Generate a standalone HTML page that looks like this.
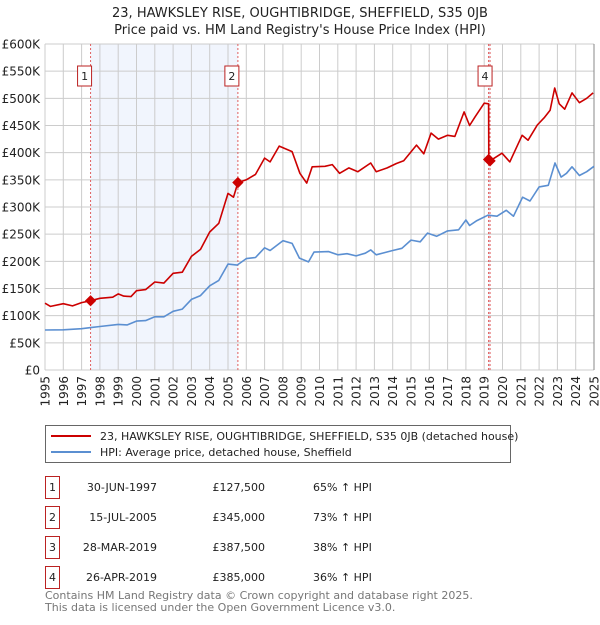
<!DOCTYPE html>
<html><head><meta charset="utf-8"><style>
body{margin:0;background:#fff;font-family:"Liberation Sans","DejaVu Sans",sans-serif;}
svg text{font-family:"DejaVu Sans","Liberation Sans",sans-serif;}
</style></head><body>
<svg id="c" width="600" height="620" xmlns="http://www.w3.org/2000/svg">
<text x="300" y="17" text-anchor="middle" font-size="13" fill="#222">23, HAWKSLEY RISE, OUGHTIBRIDGE, SHEFFIELD, S35 0JB</text>
<text x="300" y="34" text-anchor="middle" font-size="13" fill="#222">Price paid vs. HM Land Registry's House Price Index (HPI)</text>
<g id="plot"></g>
<g>
<rect x="45.5" y="425.5" width="465" height="37" fill="#fff" stroke="#666"/>
<line x1="51" y1="436" x2="91" y2="436" stroke="#cc0000" stroke-width="2"/>
<text x="100" y="440" font-size="11" fill="#222">23, HAWKSLEY RISE, OUGHTIBRIDGE, SHEFFIELD, S35 0JB (detached house)</text>
<line x1="51" y1="452" x2="91" y2="452" stroke="#5b8fd1" stroke-width="2"/>
<text x="100" y="456" font-size="11" fill="#222">HPI: Average price, detached house, Sheffield</text>
</g>
<g id="tbl" font-size="11" fill="#222"></g>
<text x="45" y="599" font-size="11" fill="#777">Contains HM Land Registry data © Crown copyright and database right 2025.</text>
<text x="45" y="611" font-size="11" fill="#777">This data is licensed under the Open Government Licence v3.0.</text>
</svg>
<script>
const yTicks=[0,50000,100000,150000,200000,250000,300000,350000,400000,450000,500000,550000,600000];
const yTickLabels=["£0","£50K","£100K","£150K","£200K","£250K","£300K","£350K","£400K","£450K","£500K","£550K","£600K"];
const years=[1995,1996,1997,1998,1999,2000,2001,2002,2003,2004,2005,2006,2007,2008,2009,2010,2011,2012,2013,2014,2015,2016,2017,2018,2019,2020,2021,2022,2023,2024,2025];
const hpiT=[1995,1996,1997,1997.5,1998,1999,1999.5,2000,2000.5,2001,2001.5,2002,2002.5,2003,2003.5,2004,2004.5,2005,2005.5,2006,2006.5,2007,2007.3,2008,2008.5,2008.9,2009.4,2009.7,2010.5,2011,2011.5,2012,2012.5,2012.8,2013.1,2014,2014.5,2015,2015.5,2015.9,2016.4,2017,2017.6,2018,2018.2,2018.6,2019.2,2019.7,2020.2,2020.6,2021.1,2021.5,2022,2022.5,2022.87,2023.2,2023.5,2023.8,2024.2,2024.6,2025];
const hpiV=[73600,74000,76000,78000,80000,84000,83000,90000,91000,98000,98000,108000,112000,130000,137000,155000,165000,195000,193000,205000,207000,225000,220000,238000,233000,206000,199000,217000,218000,212000,214000,210000,215000,221000,212000,220000,224000,239000,236000,252000,246000,256000,258000,276000,266000,275000,285000,283000,294000,283000,318000,311000,337000,340000,381000,355000,362000,374000,358000,365000,375000];
const priceT=[1995,1995.3,1996,1996.5,1997,1997.5,1998,1998.7,1999,1999.3,1999.7,2000,2000.5,2001,2001.5,2002,2002.5,2003,2003.5,2004,2004.5,2005,2005.3,2005.54,2006,2006.5,2007,2007.3,2007.8,2008.5,2008.93,2009.3,2009.6,2010.3,2010.7,2011.1,2011.6,2012.1,2012.8,2013.1,2013.7,2014.2,2014.6,2015.3,2015.7,2016.1,2016.5,2017,2017.4,2017.9,2018.2,2018.5,2019.0,2019.24,2019.25,2019.32,2019.97,2020.4,2021.07,2021.4,2021.9,2022.3,2022.6,2022.85,2023.1,2023.4,2023.8,2024.2,2024.6,2024.95];
const priceV=[123000,117000,122000,118000,124000,127500,132000,134000,140000,136000,135000,146000,148000,162000,160000,178000,180000,209000,222000,254000,270000,325000,318000,345000,350000,360000,390000,383000,412000,402000,362000,344000,374000,375000,378000,362000,372000,365000,381000,365000,372000,380000,385000,414000,398000,436000,425000,432000,430000,475000,450000,466000,491000,490000,387500,385000,399000,383000,432000,423000,451000,465000,478000,519000,490000,480000,510000,492000,500000,510000];
const saleLabels=["1","2","3","4"];
const saleT=[1997.49,2005.54,2019.24,2019.32];
const saleV=[127500,345000,387500,385000];
const saleDates=["30-JUN-1997","15-JUL-2005","28-MAR-2019","26-APR-2019"];
const salePrices=["£127,500","£345,000","£387,500","£385,000"];
const salePct=["65% ↑ HPI","73% ↑ HPI","38% ↑ HPI","36% ↑ HPI"];

const NS="http://www.w3.org/2000/svg";
const X0=45,X1=594,Y0=370,Y1=44;
const xs=t=>X0+(t-1995)/30*(X1-X0);
const ys=v=>Y0-v/600000*(Y0-Y1);
const plot=document.getElementById('plot');
function mk(tag,at,parent){const e=document.createElementNS(NS,tag);for(const k in at)e.setAttribute(k,at[k]);(parent||plot).appendChild(e);return e;}
let e;
e=mk('rect',{x:X0,y:Y1,width:X1-X0,height:Y0-Y1,fill:'#fff'});


e=mk('rect',{x:xs(saleT[0]),y:Y1,width:xs(saleT[1])-xs(saleT[0]),height:Y0-Y1,fill:'#eef3fc',opacity:0.8});


e=mk('rect',{x:xs(saleT[2]),y:Y1,width:xs(saleT[3])-xs(saleT[2]),height:Y0-Y1,fill:'#eef3fc'});


yTicks.forEach((v,i)=>{
 e=mk('line',{x1:X0,x2:X1,y1:ys(v),y2:ys(v),stroke:'#ccc','stroke-width':1});
 
 
 e=mk('text',{x:40,y:ys(v)+4.5,'text-anchor':'end','font-size':12,fill:'#222'});
 e.textContent=yTickLabels[i];
 
 
});
years.forEach(y=>{
 e=mk('line',{x1:xs(y),x2:xs(y),y1:Y1,y2:Y0,stroke:'#ccc','stroke-width':1});
 
 
 e=mk('text',{x:0,y:0,'text-anchor':'end','font-size':12,fill:'#222',transform:`translate(${xs(y)+4.5},376) rotate(-90)`});
 e.textContent=y;
 
 
});
e=mk('line',{x1:X1,x2:X1,y1:Y1,y2:Y0,stroke:'#888','stroke-width':1});


saleT.forEach((t,i)=>{
 e=mk('line',{x1:xs(t),x2:xs(t),y1:Y1,y2:Y0,stroke:'#e06060','stroke-width':1,'stroke-dasharray':'2,2'});
 
 
});
function path(T,V,col,name){
 const d=T.map((t,i)=>(i?'L':'M')+xs(t).toFixed(1)+','+ys(V[i]).toFixed(1)).join('');
 e=mk('path',{d:d,fill:'none',stroke:col,'stroke-width':1.6,'stroke-linejoin':'round'});
 
 
}
path(hpiT,hpiV,'#5b8fd1','hpi-line');
path(priceT,priceV,'#cc0000','price-line');
saleT.forEach((t,i)=>{
 e=mk('rect',{x:xs(t)-4,y:ys(saleV[i])-4,width:8,height:8,fill:'#cc0000',transform:`rotate(45 ${xs(t)} ${ys(saleV[i])})`});
 
 
 const bx=i==2?xs(t)-7:xs(t)-13,by=66;
 const g=mk('g',{});
 
 
 if(i==0||i==1||i==3){
  mk('rect',{x:(i==3?xs(t)-12:bx),y:by,width:14,height:20,fill:'#fff',stroke:'#b22','stroke-width':1},g);
  const tx=mk('text',{x:(i==3?xs(t)-5:bx+7),y:by+14,'text-anchor':'middle','font-size':11,fill:'#222'},g);
  tx.textContent=saleLabels[i];
 }
});
const tbl=document.getElementById('tbl');
const rowY=[487,517,547,577];
saleLabels.forEach((l,i)=>{
 const g=mk('g',{},tbl);
 
 
 mk('rect',{x:45.5,y:rowY[i]-10.5,width:14,height:22,fill:'#fff',stroke:'#b22'},g);
 let t=mk('text',{x:52.5,y:rowY[i]+4,'text-anchor':'middle'},g);t.textContent=l;
 t=mk('text',{x:157,y:rowY[i]+4,'text-anchor':'end'},g);t.textContent=saleDates[i];
 t=mk('text',{x:265,y:rowY[i]+4,'text-anchor':'end'},g);t.textContent=salePrices[i];
 t=mk('text',{x:313,y:rowY[i]+4},g);t.textContent=salePct[i];
});
</script>
</body></html>
